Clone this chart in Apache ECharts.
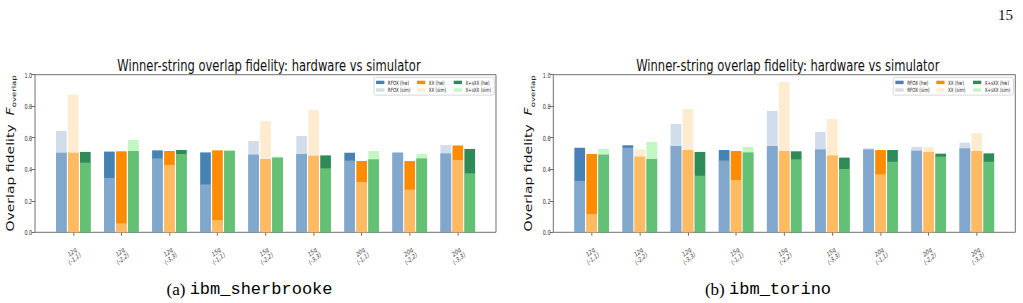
<!DOCTYPE html>
<html>
<head>
<meta charset="utf-8">
<script src="https://cdn.jsdelivr.net/npm/echarts@6/dist/echarts.min.js"></script>
<style>
  html, body { margin: 0; padding: 0; background: #fff; overflow: hidden; }
  #main { height: 303px; transform-origin: 0 0; }
</style>
</head>
<body>
<div id="main"></div>
<script>
// group labels (qubits / window)
const categories = ['12q\n(-1,1)', '12q\n(-2,2)', '12q\n(-3,3)', '15q\n(-1,1)', '15q\n(-2,2)',
    '15q\n(-3,3)', '20q\n(-1,1)', '20q\n(-2,2)', '20q\n(-3,3)'];
const methods = ['RFOX', 'XX', 'X+sXX'];
const yTicks = [0.0, 0.2, 0.4, 0.6, 0.8, 1.0];

// (a) ibm_sherbrooke
const rfoxHwA = [0.505, 0.512, 0.520, 0.507, 0.493, 0.497, 0.505, 0.505, 0.501];
const rfoxSimA = [0.643, 0.345, 0.469, 0.304, 0.579, 0.611, 0.455, 0.508, 0.554];
const xxHwA = [0.505, 0.514, 0.516, 0.520, 0.465, 0.486, 0.452, 0.452, 0.550];
const xxSimA = [0.875, 0.057, 0.427, 0.078, 0.706, 0.776, 0.319, 0.271, 0.459];
const xsxxHwA = [0.510, 0.516, 0.522, 0.517, 0.474, 0.488, 0.463, 0.469, 0.529];
const xsxxSimA = [0.442, 0.586, 0.497, 0.520, 0.480, 0.406, 0.516, 0.497, 0.374];

// (b) ibm_torino
const rfoxHwB = [0.537, 0.552, 0.548, 0.522, 0.548, 0.526, 0.526, 0.518, 0.533];
const rfoxSimB = [0.326, 0.537, 0.687, 0.455, 0.770, 0.636, 0.533, 0.541, 0.569];
const xxHwB = [0.497, 0.480, 0.522, 0.516, 0.516, 0.488, 0.522, 0.510, 0.516];
const xxSimB = [0.116, 0.526, 0.782, 0.332, 0.953, 0.719, 0.368, 0.541, 0.630];
const xsxxHwB = [0.493, 0.465, 0.510, 0.507, 0.514, 0.474, 0.522, 0.499, 0.501];
const xsxxSimB = [0.529, 0.573, 0.359, 0.541, 0.463, 0.402, 0.448, 0.480, 0.448];

// the figure is squeezed horizontally like the original
const S = 0.7;
const px = v => v / S;
const W = 1023 / S;
const box = document.getElementById('main');
box.style.width = W + 'px';
box.style.transform = 'scaleX(' + S + ')';

const hwColors = ['#4682b4', '#ff8c00', '#2e8b57'];
const simColors = ['rgba(176,196,222,0.57)', 'rgba(255,222,173,0.57)', 'rgba(144,238,144,0.55)'];
const TOP = 74.7, H = 157.6;
const FONT = 'DejaVu Sans';

let grids = [], xAxes = [], yAxes = [], series = [], titles = [], legends = [];

function panel(p, hw, sim, frameL, frameR, dataL, dataW, legendRight) {
    let g = p * 2;
    grids.push({left: px(frameL), top: TOP, width: px(frameR - frameL), height: H,
        show: true, borderColor: '#555', borderWidth: 1, backgroundColor: 'transparent'});
    grids.push({left: px(dataL), top: TOP, width: px(dataW), height: H});
    xAxes.push({type: 'value', gridIndex: g, show: false, min: 0, max: 1});
    xAxes.push({type: 'category', gridIndex: g + 1, data: categories, position: 'bottom',
        axisLine: {show: false},
        axisTick: {show: true, alignWithLabel: true, length: 3.5, lineStyle: {color: '#555'}},
        axisLabel: {rotate: 30, align: 'center', verticalAlign: 'middle', margin: 23,
            fontSize: 6.8, lineHeight: 7.5, color: '#333', fontFamily: FONT}});
    xAxes.push({type: 'category', gridIndex: g + 1, data: categories, show: false});
    yAxes.push({type: 'value', gridIndex: g, min: 0, max: 1, interval: 0.2,
        axisLine: {show: false}, splitLine: {show: false},
        axisTick: {show: true, length: 5, lineStyle: {color: '#555'}},
        axisLabel: {fontSize: 7, color: '#333', margin: 4, fontFamily: FONT,
            formatter: v => yTicks.includes(+v.toFixed(1)) ? v.toFixed(1) : ''},
        name: '{a|Overlap fidelity  }{b|F}{c|overlap}', nameLocation: 'middle', nameRotate: 90, nameGap: 25,
        nameTextStyle: {rich: {
            a: {fontSize: 14, fontFamily: FONT, color: '#111', lineHeight: 20},
            b: {fontSize: 14, fontFamily: FONT, fontStyle: 'italic', color: '#111', lineHeight: 20},
            c: {fontSize: 8.5, fontFamily: FONT, color: '#111', verticalAlign: 'bottom'}
        }}});
    yAxes.push({type: 'value', gridIndex: g + 1, min: 0, max: 1, show: false});

    titles.push({text: 'Winner-string overlap fidelity: hardware vs simulator',
        left: px((frameL + frameR) / 2), textAlign: 'center', top: 52,
        textStyle: {fontSize: 16.5, fontWeight: 'normal', color: '#111', fontFamily: FONT}});

    for (let k = 0; k < 3; k++) {
        series.push({name: methods[k] + ' (hw)', type: 'bar', xAxisIndex: p * 3 + 1, yAxisIndex: g + 1,
            data: hw[k], barWidth: px(10.7), barGap: '12%', itemStyle: {color: hwColors[k]}});
    }
    for (let k = 0; k < 3; k++) {
        series.push({name: methods[k] + ' (sim)', type: 'bar', xAxisIndex: p * 3 + 2, yAxisIndex: g + 1,
            data: sim[k], barWidth: px(10.7), barGap: '12%', z: 3, itemStyle: {color: simColors[k]}});
    }

    const widths = [41, 35, 38];
    let items = [];
    ['hw', 'sim'].forEach(t => methods.forEach((m, k) => {
        items.push({name: m + ' (' + t + ')', textStyle: {width: widths[k]}});
    }));
    legends.push({right: legendRight, top: 77.3, width: 168, orient: 'horizontal',
        itemWidth: px(8.3), itemHeight: 3.4, itemGap: 0.6, icon: 'rect',
        padding: [1.6, 3, 1.6, 3], borderColor: '#d0d0d0', borderWidth: 1, borderRadius: 2,
        backgroundColor: '#fff',
        textStyle: {fontSize: 5.8, lineHeight: 7, color: '#222', fontFamily: FONT},
        data: items});
}

panel(0, [rfoxHwA, xxHwA, xsxxHwA], [rfoxSimA, xxSimA, xsxxSimA], 35, 496, 49.3, 432.5, W - px(494.5));
panel(1, [rfoxHwB, xxHwB, xsxxHwB], [rfoxSimB, xxSimB, xsxxSimB], 553.3, 1015.3, 567.6, 433.3, W - px(1013.8));

const capRich = {
    s: {fontFamily: 'Liberation Serif', fontSize: 17, color: '#111'},
    m: {fontFamily: 'Liberation Mono', fontSize: 17, color: '#222'}
};

let chart = echarts.init(box, null, {renderer: 'svg'});
chart.setOption({
    animation: false,
    title: titles,
    legend: legends,
    grid: grids,
    xAxis: xAxes,
    yAxis: yAxes,
    series: series,
    graphic: [
        {type: 'text', x: px(249.5), y: 290, scaleX: 1 / S,
            style: {text: '{s|(a) }{m|ibm_sherbrooke}', rich: capRich, align: 'center', verticalAlign: 'middle'}},
        {type: 'text', x: px(768), y: 290, scaleX: 1 / S,
            style: {text: '{s|(b) }{m|ibm_torino}', rich: capRich, align: 'center', verticalAlign: 'middle'}},
        {type: 'text', x: px(1013), y: 15, scaleX: 1 / S,
            style: {text: '15', font: '15px "Liberation Serif"', fill: '#111', align: 'right', verticalAlign: 'middle'}}
    ]
});
</script>
</body>
</html>
